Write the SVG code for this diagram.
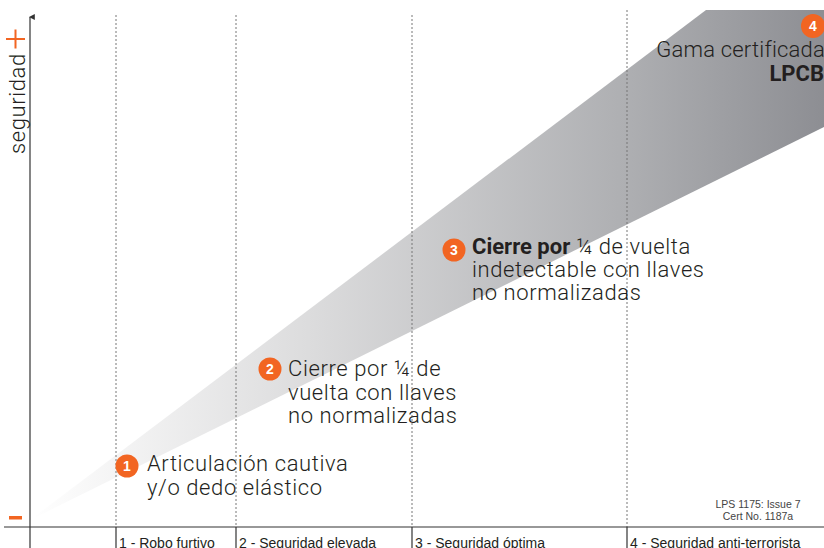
<svg xmlns="http://www.w3.org/2000/svg" width="824" height="548" viewBox="0 0 824 548">
<style>
.lbl{font-family:Roboto,"Liberation Sans",Arial,sans-serif;font-size:22px;letter-spacing:0.6px;fill:#231f20;font-weight:300}
.b{font-weight:bold;letter-spacing:0}
.num{font-family:"Liberation Sans",Arial,sans-serif;font-size:14px;font-weight:bold;fill:#fff;text-anchor:middle}
.dot{fill:#f26522}
.grid{stroke:#777;stroke-width:1;stroke-dasharray:2,2}
.tick{stroke:#333;stroke-width:1.2}
.cat{font-family:"Liberation Sans",Arial,sans-serif;font-size:14px;fill:#231f20}
.cert{font-family:"Liberation Sans",Arial,sans-serif;font-size:10.5px;fill:#444;text-anchor:middle}
</style>
<defs>
<linearGradient id="wg" gradientUnits="userSpaceOnUse" x1="30" y1="0" x2="824" y2="0">
<stop offset="0" stop-color="#ffffff"/>
<stop offset="0.35" stop-color="#dcdcdd"/>
<stop offset="0.75" stop-color="#aeafb2"/>
<stop offset="1" stop-color="#8d8e93"/>
</linearGradient>
<marker id="ah" viewBox="0 0 10 10" refX="5" refY="2" markerWidth="6" markerHeight="6" orient="auto-start-reverse" markerUnits="userSpaceOnUse">
<path d="M0,10 L5,0 L10,10 z" fill="#333"/>
</marker>
</defs>
<g id="wedge">
<polygon points="30,520 706,10 824,10 824,127" fill="url(#wg)"/>
</g>
<g id="grid">
<line class="grid" x1="116" y1="15" x2="116" y2="527"/>
<line class="grid" x1="236" y1="15" x2="236" y2="527"/>
<line class="grid" x1="412" y1="15" x2="412" y2="527"/>
<line class="grid" x1="627" y1="10" x2="627" y2="527"/>
</g>
<g id="axes">
<line x1="30" y1="548" x2="30" y2="17" stroke="#333" stroke-width="1.2" marker-end="url(#ah)"/>
<line x1="4" y1="527" x2="824" y2="527" stroke="#333" stroke-width="1.2"/>
<line class="tick" x1="116" y1="527" x2="116" y2="548"/>
<line class="tick" x1="236" y1="527" x2="236" y2="548"/>
<line class="tick" x1="412" y1="527" x2="412" y2="548"/>
<line class="tick" x1="627" y1="527" x2="627" y2="548"/>
<text class="lbl" transform="translate(25,154) rotate(-90)">seguridad</text>
<rect x="6" y="38" width="19" height="2" class="dot"/>
<rect x="14.5" y="29.5" width="2" height="19" class="dot"/>
<rect x="9" y="516" width="13" height="3.5" class="dot"/>
</g>
<g id="categories">
<text class="cat" x="119" y="548">1 - Robo furtivo</text>
<text class="cat" x="239" y="548">2 - Seguridad elevada</text>
<text class="cat" x="415" y="548">3 - Seguridad óptima</text>
<text class="cat" x="630" y="548">4 - Seguridad anti-terrorista</text>
</g>
<g id="node1">
<circle cx="127" cy="466" r="11.5" class="dot"/>
<text class="num" x="127" y="471">1</text>
<text class="lbl" x="147" y="471">Articulación cautiva</text>
<text class="lbl" x="147" y="495">y/o dedo elástico</text>
</g>
<g id="node2">
<circle cx="270" cy="369" r="11.5" class="dot"/>
<text class="num" x="270" y="374">2</text>
<text class="lbl" x="288" y="376">Cierre por ¼ de</text>
<text class="lbl" x="288" y="400">vuelta con llaves</text>
<text class="lbl" x="288" y="423">no normalizadas</text>
</g>
<g id="node3">
<circle cx="454" cy="250" r="11.5" class="dot"/>
<text class="num" x="454" y="255">3</text>
<text class="lbl" x="472" y="254"><tspan class="b">Cierre por</tspan> ¼ de vuelta</text>
<text class="lbl" x="472" y="277">indetectable con llaves</text>
<text class="lbl" x="472" y="300">no normalizadas</text>
</g>
<g id="node4">
<circle cx="813" cy="26" r="12" class="dot"/>
<text class="num" x="813" y="31">4</text>
<text class="lbl" x="825" y="57" text-anchor="end" style="letter-spacing:0.2px">Gama certificada</text>
<text class="lbl b" x="824" y="81" text-anchor="end">LPCB</text>
</g>
<g id="cert">
<text class="cert" x="758" y="508">LPS 1175: Issue 7</text>
<text class="cert" x="758" y="520">Cert No. 1187a</text>
</g>
</svg>
